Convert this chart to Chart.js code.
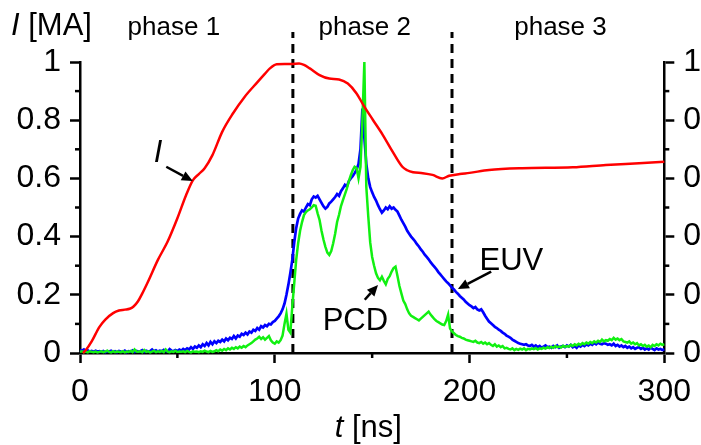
<!DOCTYPE html>
<html>
<head>
<meta charset="utf-8">
<script src="https://cdn.jsdelivr.net/npm/chart.js@4.4.1/dist/chart.umd.min.js"></script>
<style>
  html, body { margin: 0; padding: 0; background: #fff; overflow: hidden; }
  #wrap { position: relative; width: 701px; height: 445px; }
</style>
</head>
<body>
<div id="wrap"><canvas id="c"></canvas></div>
<script>
// ---------- DATA ----------
// Current I [MA]: time (ns) and value
const currentTime = [1.5, 3, 6, 10, 13, 17, 20, 23, 25.5, 27.5, 29.7, 32, 34.9, 40, 45, 50, 54.5, 58, 61, 64, 68, 73, 78.5, 84.5, 91, 95, 97.5, 101, 105, 108.5, 112.5, 115, 118, 123, 128, 133, 137.5, 142, 145.5, 150.5, 155.5, 160.5, 165.5, 168, 171, 176, 181, 186, 189.5, 195, 200, 210, 227, 253, 270, 287, 300];
const currentMA = [0, .01, .04, .09, .115, .137, .146, .149, .152, .160, .177, .205, .245, .32, .383, .463, .543, .594, .615, .635, .68, .76, .823, .88, .93, .96, .978, .992, .993, .993, .995, .99, .978, .955, .943, .94, .926, .892, .852, .80, .749, .692, .64, .628, .621, .618, .612, .60, .609, .615, .619, .629, .635, .638, .646, .652, .657];

// EUV and PCD signals (normalized), sampled every 1 ns from t = 0 to 300 ns
const sampleStepNs = 1;
const euvSignal = [
 .010,.008,.012,.006,.009,.005,.007,.004,.008,.005,.006,
 .004,.007,.003,.006,.005,.008,.004,.006,.003,.007,
 .005,.004,.008,.003,.006,.005,.009,.004,.007,.005,
 .006,.010,.004,.008,.005,.007,.012,.006,.009,.005,
 .008,.006,.011,.007,.005,.013,.008,.006,.010,.007,
 .012,.008,.014,.010,.016,.012,.020,.014,.022,.018,
 .026,.020,.030,.024,.034,.026,.038,.030,.040,.034,
 .042,.038,.046,.040,.050,.044,.052,.048,.058,.050,
 .060,.056,.066,.062,.070,.064,.074,.070,.080,.076,
 .086,.080,.092,.088,.096,.092,.100,.098,.106,.110,
 .118,.126,.136,.150,.170,.200,.235,.275,.320,.380,
 .430,.462,.478,.490,.486,.500,.512,.508,.528,.538,
 .534,.540,.528,.516,.504,.496,.502,.514,.520,.528,
 .536,.546,.540,.556,.566,.578,.572,.590,.600,.608,
 .618,.630,.650,.700,.840,.740,.650,.600,.570,.552,
 .536,.524,.508,.494,.482,.490,.500,.494,.504,.496,
 .500,.492,.486,.472,.458,.446,.434,.420,.410,.400,
 .392,.384,.374,.366,.356,.348,.338,.330,.322,.312,
 .304,.296,.288,.278,.270,.262,.254,.246,.240,.232,
 .224,.218,.210,.204,.196,.190,.184,.176,.170,.164,
 .160,.154,.158,.150,.146,.150,.140,.128,.118,.108,
 .102,.096,.090,.086,.080,.076,.070,.066,.060,.056,
 .052,.046,.042,.038,.034,.032,.030,.028,.030,.026,
 .024,.028,.022,.026,.020,.024,.018,.022,.026,.020,
 .022,.018,.024,.020,.026,.018,.022,.024,.020,.026,
 .022,.028,.020,.024,.018,.026,.022,.028,.024,.030,
 .026,.032,.028,.034,.030,.036,.032,.030,.034,.032,
 .028,.030,.026,.032,.024,.028,.022,.026,.020,.024,
 .018,.022,.016,.020,.014,.018,.020,.014,.018,.012,
 .016,.012,.018,.014,.010,.016,.012,.014,.010,.013
];
const pcdSignal = [
 .004,.006,.003,.005,.002,.006,.004,.003,.005,.002,.004,
 .006,.003,.005,.008,.004,.002,.006,.003,.005,.004,
 .003,.006,.002,.005,.004,.007,.003,.012,.005,.004,
 .006,.003,.010,.004,.006,.002,.005,.008,.003,.006,
 .004,.007,.003,.012,.005,.003,.006,.004,.008,.003,
 .005,.004,.006,.003,.007,.004,.002,.006,.004,.005,
 .003,.006,.004,.008,.005,.003,.007,.004,.006,.010,
 .006,.012,.008,.014,.010,.016,.012,.018,.014,.020,
 .016,.022,.018,.024,.020,.026,.030,.034,.040,.046,
 .050,.056,.048,.054,.046,.052,.058,.044,.036,.032,
 .040,.036,.044,.060,.100,.135,.080,.070,.160,.240,
 .320,.377,.420,.450,.474,.484,.490,.494,.500,.508,
 .506,.480,.457,.420,.390,.365,.345,.337,.350,.377,
 .410,.450,.475,.505,.525,.545,.565,.590,.610,.628,
 .640,.636,.600,.640,.800,1.00,.571,.470,.380,.330,
 .300,.274,.258,.250,.262,.248,.236,.255,.264,.280,
 .292,.297,.265,.230,.205,.180,.168,.150,.136,.128,
 .124,.120,.116,.112,.118,.124,.130,.136,.142,.132,
 .124,.116,.110,.106,.102,.098,.096,.110,.132,.084,
 .074,.068,.062,.058,.056,.052,.050,.046,.044,.042,
 .040,.038,.042,.036,.034,.038,.032,.036,.030,.034,
 .028,.024,.030,.022,.026,.020,.024,.016,.018,.014,
 .012,.016,.010,.014,.011,.015,.012,.016,.010,.014,
 .012,.016,.013,.017,.012,.016,.014,.018,.015,.020,
 .017,.021,.018,.024,.020,.022,.019,.025,.021,.024,
 .022,.028,.024,.030,.026,.032,.028,.034,.030,.036,
 .032,.038,.034,.040,.036,.042,.038,.046,.040,.044,
 .042,.048,.044,.052,.046,.050,.044,.048,.040,.038,
 .036,.040,.032,.036,.030,.034,.026,.030,.024,.028,
 .022,.026,.020,.028,.024,.030,.026,.032,.028,.030
];

// Axis ticks
const xMajorTicks = [0, 100, 200, 300];
const xMinorTicks = [50, 150, 250];
const yMajorTicks = [0, 0.2, 0.4, 0.6, 0.8, 1];
const yMinorTicks = [0.1, 0.3, 0.5, 0.7, 0.9];

// Phase boundaries (ns) and phase labels
const phaseBoundaries = [109.3, 191];
const phaseLabels = ['phase 1', 'phase 2', 'phase 3'];
const phaseLabelTimes = [48.2, 146.2, 246.7];

// Curve annotations: text, text anchor (t, value), arrow tail and tip (t, value)
const annoText = ['I', 'EUV', 'PCD'];
const annoTextAt = [[37.9, 0.657], [205.1, 0.286], [124.6, 0.080]];
const annoArrowFrom = [[44.3, 0.640], [211.1, 0.280], [146.2, 0.183]];
const annoArrowTo = [[57.9, 0.591], [194.0, 0.220], [153.0, 0.234]];

// ---------- CHART ----------
const FONT = 'Arial, "Liberation Sans", Helvetica, sans-serif';
const toPts = (arr) => arr.map((v, i) => ({ x: i * sampleStepNs, y: v }));

const overlay = {
  id: 'overlay',
  beforeDatasetsDraw(chart) {
    const { ctx, scales: { x, y } } = chart;
    ctx.save();
    ctx.strokeStyle = '#000';
    ctx.lineWidth = 3;
    ctx.setLineDash([9, 6]);
    phaseBoundaries.forEach(t => {
      const px = x.getPixelForValue(t);
      ctx.beginPath();
      ctx.moveTo(px, y.getPixelForValue(0));
      ctx.lineTo(px, y.getPixelForValue(1.103));
      ctx.stroke();
    });
    ctx.restore();
  },
  afterDraw(chart) {
    const { ctx, scales: { x, y, y2 }, chartArea } = chart;
    ctx.save();
    ctx.strokeStyle = '#000';
    ctx.fillStyle = '#000';
    ctx.lineWidth = 2.5;
    ctx.setLineDash([]);
    // minor ticks
    yMinorTicks.forEach(v => {
      const py = y.getPixelForValue(v);
      ctx.beginPath(); ctx.moveTo(chartArea.left, py); ctx.lineTo(chartArea.left - 5, py); ctx.stroke();
      const py2 = y2.getPixelForValue(v);
      ctx.beginPath(); ctx.moveTo(chartArea.right, py2); ctx.lineTo(chartArea.right + 5, py2); ctx.stroke();
    });
    xMinorTicks.forEach(t => {
      const px = x.getPixelForValue(t);
      ctx.beginPath(); ctx.moveTo(px, chartArea.bottom); ctx.lineTo(px, chartArea.bottom + 5); ctx.stroke();
    });
    // phase labels
    ctx.font = '26px ' + FONT;
    ctx.textAlign = 'center';
    ctx.textBaseline = 'alphabetic';
    phaseLabels.forEach((s, i) => {
      ctx.fillText(s, x.getPixelForValue(phaseLabelTimes[i]), y.getPixelForValue(1.092));
    });
    // annotations
    ctx.textAlign = 'left';
    annoText.forEach((s, i) => {
      ctx.font = (i === 0 ? 'italic ' : '') + '31px ' + FONT;
      ctx.fillText(s, x.getPixelForValue(annoTextAt[i][0]), y.getPixelForValue(annoTextAt[i][1]));
      const x0 = x.getPixelForValue(annoArrowFrom[i][0]), y0 = y.getPixelForValue(annoArrowFrom[i][1]);
      const x1 = x.getPixelForValue(annoArrowTo[i][0]), y1 = y.getPixelForValue(annoArrowTo[i][1]);
      const ang = Math.atan2(y1 - y0, x1 - x0);
      const hl = 11, hw = 5;
      const bx = x1 - hl * Math.cos(ang), by = y1 - hl * Math.sin(ang);
      ctx.lineWidth = 2.5;
      ctx.beginPath(); ctx.moveTo(x0, y0); ctx.lineTo(bx, by); ctx.stroke();
      ctx.beginPath();
      ctx.moveTo(x1, y1);
      ctx.lineTo(bx + hw * Math.sin(ang), by - hw * Math.cos(ang));
      ctx.lineTo(bx - hw * Math.sin(ang), by + hw * Math.cos(ang));
      ctx.closePath(); ctx.fill();
    });
    // axis titles
    ctx.textBaseline = 'alphabetic';
    ctx.textAlign = 'left';
    ctx.font = 'italic 31px ' + FONT;
    let xx = 11;
    ctx.fillText('I', xx, 35);
    xx += ctx.measureText('I').width;
    ctx.font = '31px ' + FONT;
    ctx.fillText(' [MA]', xx, 35);
    // x title centered
    ctx.font = 'italic 31px ' + FONT;
    const wT = ctx.measureText('t').width;
    ctx.font = '31px ' + FONT;
    const wR = ctx.measureText(' [ns]').width;
    const cx = x.getPixelForValue(148) - (wT + wR) / 2;
    ctx.font = 'italic 31px ' + FONT;
    ctx.fillText('t', cx, 437);
    ctx.font = '31px ' + FONT;
    ctx.fillText(' [ns]', cx + wT, 437);
    ctx.restore();
  }
};

const axisCommon = {
  min: 0, max: 1,
  ticks: { stepSize: 0.2, color: '#000', font: { family: FONT, size: 32 }, padding: 9,
           callback: v => String(Math.round(v * 10) / 10) },
  grid: { drawOnChartArea: false, drawTicks: true, tickLength: 10, tickWidth: 2.5, tickColor: '#000' },
  border: { display: true, color: '#000', width: 2.5 }
};

new Chart(document.getElementById('c'), {
  type: 'line',
  data: {
    datasets: [
      { label: 'I', data: currentTime.map((t, i) => ({ x: t, y: currentMA[i] })), borderColor: '#ff0000', borderWidth: 2.5,
        pointRadius: 0, cubicInterpolationMode: 'monotone', fill: false, clip: false, yAxisID: 'y' },
      { label: 'PCD', data: toPts(pcdSignal), borderColor: '#11f011', borderWidth: 2.5, pointRadius: 0, tension: 0,
        fill: false, clip: false, yAxisID: 'y' },
      { label: 'EUV', data: toPts(euvSignal), borderColor: '#0000ff', borderWidth: 2.7, pointRadius: 0, tension: 0,
        fill: false, clip: false, yAxisID: 'y' }
    ]
  },
  options: {
    responsive: true, maintainAspectRatio: false, animation: false, parsing: true,
    layout: { padding: { top: 62, left: 0, right: 0, bottom: 0 } },
    plugins: { legend: { display: false }, tooltip: { enabled: false } },
    scales: {
      x: {
        type: 'linear', min: 0, max: 300,
        afterBuildTicks: s => { s.ticks = xMajorTicks.map(v => ({ value: v })); },
        ticks: { color: '#000', font: { family: FONT, size: 32 }, padding: 10, maxRotation: 0, autoSkip: false },
        grid: { drawOnChartArea: false, drawTicks: true, tickLength: 10, tickWidth: 2.5, tickColor: '#000' },
        border: { display: true, color: '#000', width: 2.5 },
        afterFit: s => { s.height = 92; }
      },
      y: Object.assign({}, axisCommon, {
        position: 'left',
        afterBuildTicks: s => { s.ticks = yMajorTicks.map(v => ({ value: v })); },
        afterFit: s => { s.width = 80; }
      }),
      y2: Object.assign({}, axisCommon, {
        position: 'right',
        afterBuildTicks: s => { s.ticks = yMajorTicks.map(v => ({ value: v })); },
        afterFit: s => { s.width = 36; }
      })
    }
  },
  plugins: [overlay]
});
</script>
</body>
</html>
